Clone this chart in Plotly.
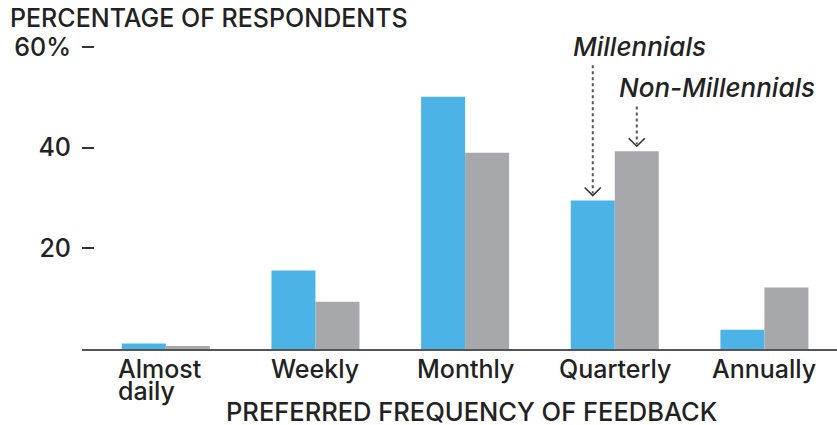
import plotly.graph_objects as go

# Survey results: preferred frequency of feedback
categories = ["Almost daily", "Weekly", "Monthly", "Quarterly", "Annually"]
millennials = [1.1, 15.6, 50.1, 29.5, 3.8]
non_millennials = [0.6, 9.4, 39.0, 39.3, 12.2]
y_tickvals = [20, 40, 60]
y_ticktext = ["20", "40", "60%"]

BLUE = "#4cb3e6"
GRAY = "#a7a8ab"
INK = "#222222"
FONT = "Inter, Lato, sans-serif"
WEIGHT = 500

W, H = 837, 425
L, R, T, B = 82, 0, 45, 76
X_RANGE = [-0.56, 4.485]
Y_RANGE = [0, 60.4]
BARGAP = 0.412

xs = list(range(len(categories)))
fig = go.Figure()
fig.add_trace(go.Bar(x=xs, y=millennials, name="Millennials",
                     marker=dict(color=BLUE, line=dict(width=0))))
fig.add_trace(go.Bar(x=xs, y=non_millennials, name="Non-Millennials",
                     marker=dict(color=GRAY, line=dict(width=0))))

# pixel <-> data helpers for the callouts
plot_w = W - L - R
plot_h = H - T - B
px_x = (X_RANGE[1] - X_RANGE[0]) / plot_w
px_y = (Y_RANGE[1] - Y_RANGE[0]) / plot_h
bar_w = (1 - BARGAP) / 2

def callout(cat_idx, series_idx, value, top_y, label, label_dx):
    xc = cat_idx + (series_idx - 0.5) * bar_w
    tip = value + 5 * px_y
    head_h = 8 * px_y
    head_w = 8 * px_x
    # dotted stem
    fig.add_trace(go.Scatter(x=[xc, xc], y=[top_y, tip + 2 * px_y], mode="lines",
                             line=dict(color="#555555", width=2, dash="dot"),
                             hoverinfo="skip", showlegend=False))
    # open chevron arrowhead
    fig.add_trace(go.Scatter(x=[xc - head_w, xc, xc + head_w],
                             y=[tip + head_h, tip, tip + head_h], mode="lines",
                             line=dict(color="#333333", width=1.6),
                             hoverinfo="skip", showlegend=False))
    fig.add_annotation(x=xc + label_dx * px_x, y=top_y + 19 * px_y, xref="x", yref="y",
                       text=f"<i>{label}</i>", showarrow=False,
                       xanchor="center", yanchor="middle",
                       font=dict(family=FONT, size=26, color=INK, weight=WEIGHT))

q = categories.index("Quarterly")
callout(q, 0, millennials[q], 56.4, "Millennials", 47)
callout(q, 1, non_millennials[q], 48.2, "Non-Millennials", 80)

# category labels below the baseline (multi-word labels wrap, left aligned, tight leading)
cat_font = dict(family=FONT, size=25, color=INK, weight=WEIGHT)
LINE_H = 22
for i, c in enumerate(categories):
    words = c.split(" ")
    if len(words) == 1:
        fig.add_annotation(x=i, y=0, xref="x", yref="y", text=c, showarrow=False,
                           xanchor="center", yanchor="top", yshift=-3, font=cat_font)
    else:
        for k, w in enumerate(words):
            fig.add_annotation(x=i, y=0, xref="x", yref="y", text=w, showarrow=False,
                               xanchor="left", yanchor="top", xshift=-50,
                               yshift=-3 - LINE_H * k, font=cat_font)

fig.add_annotation(x=(471 - L) / plot_w, y=-(411 - (H - B)) / plot_h,
                   xref="paper", yref="paper", text="PREFERRED FREQUENCY OF FEEDBACK",
                   showarrow=False, xanchor="center", yanchor="middle",
                   height=24, borderpad=0,
                   font=dict(family=FONT, size=25.5, color=INK, weight=WEIGHT))
fig.add_annotation(x=(8 - L) / plot_w, y=1 + (T - 18) / plot_h,
                   xref="paper", yref="paper", text="PERCENTAGE OF RESPONDENTS",
                   showarrow=False, xanchor="left", yanchor="middle",
                   font=dict(family=FONT, size=25, color=INK, weight=WEIGHT))

fig.update_layout(
    width=W, height=H,
    margin=dict(l=L, r=R, t=T, b=B),
    paper_bgcolor="white", plot_bgcolor="white",
    barmode="group", bargap=BARGAP, bargroupgap=0,
    showlegend=False,
    font=dict(family=FONT, color=INK),
    xaxis=dict(range=X_RANGE, showgrid=False, zeroline=False, showticklabels=False,
               ticks="", showline=True, linecolor="#555555", linewidth=2,
               fixedrange=True),
    yaxis=dict(range=Y_RANGE, showgrid=False, zeroline=False, showline=False,
               tickvals=y_tickvals, ticktext=y_ticktext, ticks="inside",
               ticklen=12, tickwidth=1.5, tickcolor="#333333",
               ticklabelstandoff=10,
               tickfont=dict(family=FONT, size=25, color=INK, weight=WEIGHT),
               fixedrange=True),
)

fig.write_html("out.html")
